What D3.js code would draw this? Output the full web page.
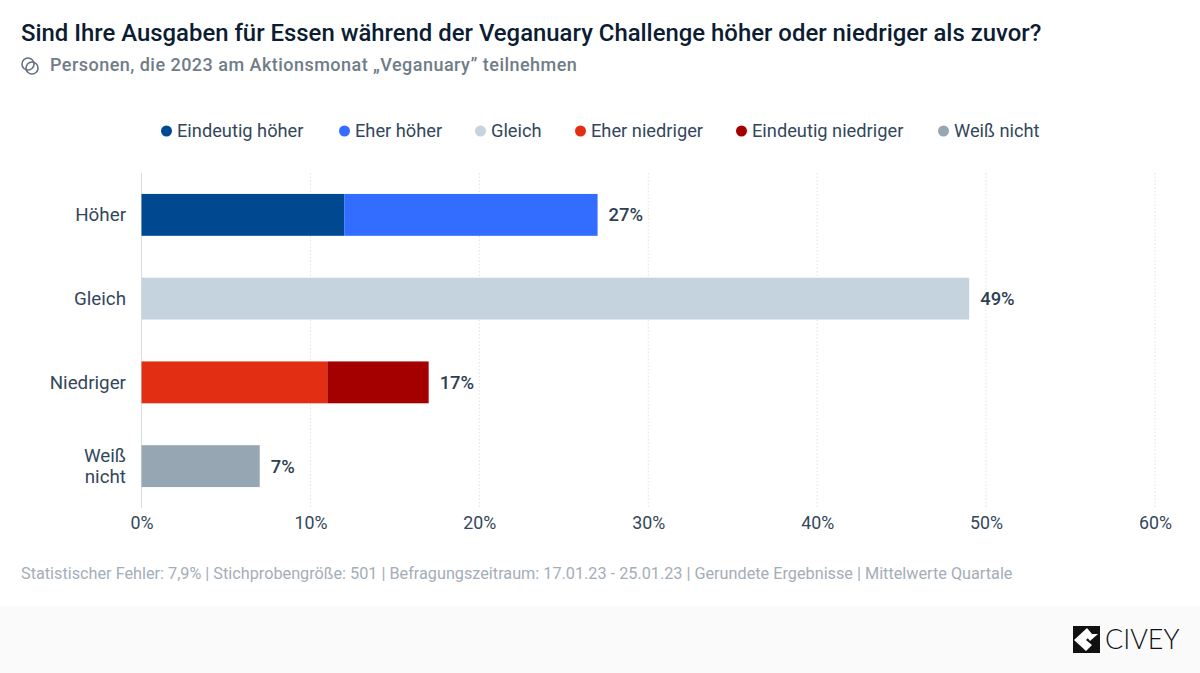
<!DOCTYPE html>
<html>
<head>
<meta charset="utf-8">
<script src="https://cdn.jsdelivr.net/npm/d3@7"></script>
<style>
  html, body { margin: 0; padding: 0; background: #fff; }
  svg { display: block; font-family: Roboto, sans-serif; }
</style>
</head>
<body>
<svg id="chart" width="1200" height="673"></svg>
<script>
const title = 'Sind Ihre Ausgaben für Essen während der Veganuary Challenge höher oder niedriger als zuvor?';
const subtitle = 'Personen, die 2023 am Aktionsmonat „Veganuary” teilnehmen';
const footnote = 'Statistischer Fehler: 7,9% | Stichprobengröße: 501 | Befragungszeitraum: 17.01.23 - 25.01.23 | Gerundete Ergebnisse | Mittelwerte Quartale';

const categories = ['Höher', 'Gleich', 'Niedriger', 'Weiß nicht'];
const seriesNames = ['Eindeutig höher', 'Eher höher', 'Gleich', 'Eher niedriger', 'Eindeutig niedriger', 'Weiß nicht'];
const seriesColors = ['#004990', '#336dff', '#c5d3de', '#e22e12', '#a50000', '#97a6b3'];
const eindeutigHoeher = [12, 0, 0, 0];
const eherHoeher = [15, 0, 0, 0];
const gleich = [0, 49, 0, 0];
const eherNiedriger = [0, 0, 11, 0];
const eindeutigNiedriger = [0, 0, 6, 0];
const weissNicht = [0, 0, 0, 7];
const totals = [27, 49, 17, 7];
const xTicks = [0, 10, 20, 30, 40, 50, 60];
const legendX = [161, 339, 475, 575, 736, 938];

const svg = d3.select('#chart');
const x = d3.scaleLinear().domain([0, 60]).range([141.5, 1155]);
const y = d3.scaleBand().domain(categories).range([173, 508]).paddingInner(0.5).paddingOuter(0.25);

const rows = categories.map((c, i) => {
  const o = {category: c};
  o[seriesNames[0]] = eindeutigHoeher[i];
  o[seriesNames[1]] = eherHoeher[i];
  o[seriesNames[2]] = gleich[i];
  o[seriesNames[3]] = eherNiedriger[i];
  o[seriesNames[4]] = eindeutigNiedriger[i];
  o[seriesNames[5]] = weissNicht[i];
  return o;
});
const stacked = d3.stack().keys(seriesNames)(rows);

svg.append('text').attr('x', 21).attr('y', 41)
  .attr('font-size', 23.9).attr('font-weight', 500).attr('fill', '#0b1c33').text(title);

const icon = svg.append('g').attr('fill', 'none').attr('stroke', '#66727f').attr('stroke-width', 1.6);
icon.append('circle').attr('cx', 28).attr('cy', 64).attr('r', 6);
icon.append('circle').attr('cx', 32).attr('cy', 68).attr('r', 6);
svg.append('text').attr('x', 50).attr('y', 71)
  .attr('font-size', 18).attr('font-weight', 500).attr('letter-spacing', 0.47).attr('fill', '#707c88').text(subtitle);

const legend = svg.append('g').selectAll('g').data(seriesNames).join('g')
  .attr('transform', (d, i) => `translate(${legendX[i]},131)`);
legend.append('circle').attr('cx', 5.5).attr('r', 5.5).attr('fill', (d, i) => seriesColors[i]);
legend.append('text').attr('x', 16).attr('y', 6)
  .attr('font-size', 18.25).attr('fill', '#33475b').text(d => d);

const xAxis = svg.append('g').attr('transform', 'translate(0,508)')
  .call(d3.axisBottom(x).tickValues(xTicks).tickFormat(d => d + '%').tickSize(0).tickPadding(8));
xAxis.select('.domain').remove();
xAxis.selectAll('text').attr('font-family', 'Roboto').attr('font-size', 17.8).attr('fill', '#33475b');

svg.append('g').selectAll('line').data(xTicks).join('line')
  .attr('x1', d => x(d)).attr('x2', d => x(d)).attr('y1', 173).attr('y2', 508)
  .attr('stroke', d => d === 0 ? '#d9dee3' : '#dde2e7')
  .attr('stroke-dasharray', d => d === 0 ? null : '1.5 2');

svg.append('g').selectAll('g').data(stacked).join('g')
  .attr('fill', (d, i) => seriesColors[i])
  .selectAll('rect').data(d => d.filter(s => s[1] > s[0])).join('rect')
  .attr('x', d => x(d[0]))
  .attr('y', d => y(d.data.category))
  .attr('width', d => x(d[1]) - x(d[0]))
  .attr('height', y.bandwidth());

svg.append('g').selectAll('text').data(categories).join('text')
  .attr('x', (d, i) => x(totals[i]) + 11)
  .attr('y', d => y(d) + y.bandwidth() / 2 + 6.5)
  .attr('font-size', 18.4).attr('font-weight', 500).attr('fill', '#2d3f52')
  .text((d, i) => totals[i] + '%');

const catLabels = svg.append('g').selectAll('text').data(categories).join('text')
  .attr('text-anchor', 'end').attr('font-size', 18.8).attr('fill', '#33475b')
  .attr('y', d => y(d) + y.bandwidth() / 2 + 6.5);
catLabels.each(function (d) {
  const parts = d.split(' ');
  const node = d3.select(this);
  if (parts.length === 1) {
    node.append('tspan').attr('x', 126).text(d);
  } else {
    node.attr('y', y(d) + y.bandwidth() / 2 - 4);
    parts.forEach((p, i) => node.append('tspan').attr('x', 126).attr('dy', i ? 21 : 0).text(p));
  }
});

svg.append('text').attr('x', 21).attr('y', 579)
  .attr('font-size', 16.24).attr('fill', '#a3aeb8').text(footnote);

svg.append('rect').attr('x', 0).attr('y', 606).attr('width', 1200).attr('height', 67).attr('fill', '#fafafa');

const logo = svg.append('g').attr('transform', 'translate(1073,626)');
logo.append('rect').attr('width', 27).attr('height', 27).attr('fill', '#111');
logo.append('path').attr('d', 'M14 2 L1 14 L13 25 L19 19 L13 14 L19 8 Z').attr('fill', '#fff');
logo.append('path').attr('d', 'M19 8 L25 8 L17 15 L14 11 Z').attr('fill', '#fff');
svg.append('text').attr('x', 1105).attr('y', 649)
  .attr('font-size', 26.9).attr('font-family', 'Lato').attr('font-weight', 300).attr('fill', '#111').text('CIVEY');
</script>
</body>
</html>
